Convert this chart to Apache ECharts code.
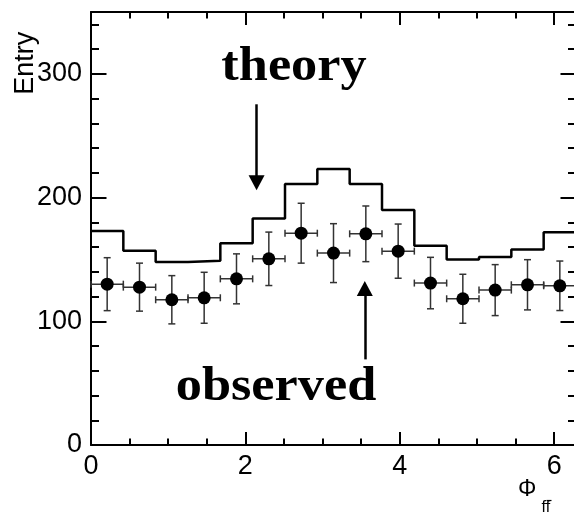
<!DOCTYPE html>
<html>
<head>
<meta charset="utf-8">
<script src="https://cdn.jsdelivr.net/npm/echarts@6/dist/echarts.min.js"></script>
<style>
  html, body { margin: 0; padding: 0; background: #fff; }
  #chart { width: 574px; height: 513px; }
</style>
</head>
<body>
<div id="chart"></div>
<script>
// Azimuthal angle between the fermion pair, 15 bins over [0, 2π]
const PHI_MAX = 2 * Math.PI;
const N_BINS = 15;

// Expected counts per bin (solid histogram)
const theoryCounts = [173, 157, 148, 149, 163, 183, 211, 223, 211, 190, 161, 150, 152, 158, 172];

// Measured counts per bin and their uncertainties
const observedCounts = [130, 127.6, 117.4, 119, 134.3, 150.5, 171.2, 155.1, 170.7, 156.7, 130.9, 118.2, 125.2, 129.5, 128.7];
const observedErrors = [21.4, 19.4, 19.5, 20.6, 20.2, 21.6, 24.2, 23.8, 22.5, 21.9, 20.8, 19.8, 20.6, 20.3, 20.0];

const binWidth = PHI_MAX / N_BINS;
const binLow = i => i * binWidth;
const binCenter = i => (i + 0.5) * binWidth;

// Step outline: one point per left bin edge, plus the closing right edge
const theoryStep = theoryCounts.map((v, i) => [binLow(i), v]);
theoryStep.push([PHI_MAX, theoryCounts[N_BINS - 1]]);

const observedPoints = observedCounts.map((v, i) => [binCenter(i), v]);
const errorBars = observedCounts.map((v, i) => [binCenter(i), v, observedErrors[i], binLow(i), binLow(i) + binWidth]);

const chart = echarts.init(document.getElementById('chart'), null, { renderer: 'canvas' });

const LABEL_FONT = '"Liberation Sans", Arial, Helvetica, sans-serif';
const SERIF_FONT = '"Liberation Serif", "Times New Roman", Times, serif';

// Frame axes: every side gets a long-tick axis and a short-tick axis, ticks drawn inward
function frameAxis(position, range, tickLength, showLine, label) {
  return Object.assign({
    type: 'value',
    gridIndex: 0,
    position: position,
    splitLine: { show: false },
    axisLine: { show: showLine, onZero: false, lineStyle: { color: '#000', width: 2 } },
    axisTick: { show: true, inside: true, length: tickLength, lineStyle: { color: '#000', width: 2 } },
    axisLabel: label || { show: false },
    minorTick: { show: false }
  }, range);
}

const xMajor = { min: 0, max: PHI_MAX, interval: 2 };
const xMinor = { min: 0, max: PHI_MAX, interval: 0.5 };
const yMajor = { min: 0, max: 350, interval: 100 };
const yMinor = { min: 0, max: 350, interval: 20 };

const tickLabel = margin => ({ show: true, margin: margin, showMaxLabel: false, color: '#000', fontSize: 27, fontFamily: LABEL_FONT });

function renderErrorBar(params, api) {
  const xc = api.value(0), y = api.value(1), e = api.value(2);
  const lo = api.value(3), hi = api.value(4);
  const top = api.coord([xc, y + e]);
  const bot = api.coord([xc, y - e]);
  const left = api.coord([lo, y]);
  const right = api.coord([hi, y]);
  const cap = 3.5;
  const style = { stroke: '#333', lineWidth: 1.5, fill: null };
  const seg = (x1, y1, x2, y2) => ({ type: 'line', shape: { x1, y1, x2, y2 }, style });
  return {
    type: 'group',
    children: [
      seg(top[0], top[1], bot[0], bot[1]),
      seg(top[0] - cap, top[1], top[0] + cap, top[1]),
      seg(bot[0] - cap, bot[1], bot[0] + cap, bot[1]),
      seg(left[0], left[1], right[0], right[1]),
      seg(left[0], left[1] - cap, left[0], left[1] + cap),
      seg(right[0], right[1] - cap, right[0], right[1] + cap)
    ]
  };
}

const arrowStyle = { color: '#000', width: 2.5, type: 'solid' };

chart.setOption({
  animation: false,
  backgroundColor: '#fff',
  grid: { left: 91, right: -2, top: 12, bottom: 68, outerBoundsMode: 'none', containLabel: false },
  xAxis: [
    frameAxis('bottom', xMajor, 13, true, tickLabel(8)),
    frameAxis('bottom', xMinor, 6.5, false),
    frameAxis('top', xMajor, 13, true),
    frameAxis('top', xMinor, 6.5, false)
  ],
  yAxis: [
    frameAxis('left', yMajor, 15.5, true, tickLabel(9)),
    frameAxis('left', yMinor, 8, false),
    frameAxis('right', yMajor, 15.5, true),
    frameAxis('right', yMinor, 8, false)
  ],
  series: [
    {
      name: 'theory',
      type: 'line',
      xAxisIndex: 0,
      yAxisIndex: 0,
      step: 'end',
      showSymbol: false,
      symbol: 'none',
      data: theoryStep,
      lineStyle: { color: '#000', width: 2.5 },
      z: 3,
      markLine: {
        silent: true,
        symbol: ['none', 'triangle'],
        symbolSize: [16, 15],
        label: { show: false },
        lineStyle: arrowStyle,
        data: [
          [{ coord: [2.145, 275.4] }, { coord: [2.145, 212.0] }],
          [{ coord: [3.547, 69.2] }, { coord: [3.547, 126.5] }]
        ]
      }
    },
    {
      name: 'observed errors',
      type: 'custom',
      xAxisIndex: 0,
      yAxisIndex: 0,
      renderItem: renderErrorBar,
      encode: { x: 0, y: 1 },
      data: errorBars,
      z: 4
    },
    {
      name: 'observed',
      type: 'scatter',
      xAxisIndex: 0,
      yAxisIndex: 0,
      symbol: 'circle',
      symbolSize: 13,
      itemStyle: { color: '#000', opacity: 1 },
      data: observedPoints,
      z: 5
    }
  ],
  graphic: [
    { type: 'text', x: 294, y: 68, scaleX: 1.09,
      style: { text: 'theory', font: 'bold 48px ' + SERIF_FONT, fill: '#000', align: 'center', verticalAlign: 'middle' } },
    { type: 'text', x: 276, y: 388, scaleX: 1.09,
      style: { text: 'observed', font: 'bold 48px ' + SERIF_FONT, fill: '#000', align: 'center', verticalAlign: 'middle' } },
    { type: 'text', x: 25.5, y: 31.7, rotation: Math.PI / 2,
      style: { text: 'Entry', font: '27px ' + LABEL_FONT, fill: '#000', align: 'right', verticalAlign: 'middle' } },
    { type: 'text', x: 518, y: 490,
      style: { text: 'Φ', font: '23px ' + LABEL_FONT, fill: '#000', align: 'left', verticalAlign: 'middle' } },
    { type: 'text', x: 541.5, y: 508,
      style: { text: 'ff', font: '16px ' + LABEL_FONT, fill: '#000', align: 'left', verticalAlign: 'middle' } },
    { type: 'line', shape: { x1: 546.5, y1: 500.5, x2: 551.5, y2: 500.5 }, style: { stroke: '#000', lineWidth: 1.2 } }
  ]
});
</script>
</body>
</html>
